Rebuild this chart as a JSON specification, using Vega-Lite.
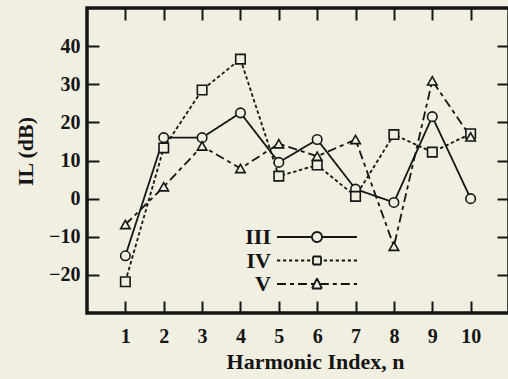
{
  "$schema": "https://vega.github.io/schema/vega-lite/v6.json",
  "width": 422,
  "height": 305,
  "autosize": {"type": "none"},
  "padding": {"left": 87, "top": 8, "right": 0, "bottom": 66},
  "background": "#f1efe2",
  "config": {
    "font": "Liberation Serif",
    "view": {"stroke": "#151515", "strokeWidth": 3.5},
    "axis": {
      "domain": false,
      "grid": false,
      "tickColor": "#151515",
      "tickWidth": 2,
      "tickSize": -12,
      "labelColor": "#151515",
      "titleColor": "#151515",
      "labelFont": "Liberation Serif",
      "titleFont": "Liberation Serif"
    }
  },
  "data": {
    "values": [
      {"series": "III", "n": 1, "IL": -15},
      {"series": "III", "n": 2, "IL": 16},
      {"series": "III", "n": 3, "IL": 16},
      {"series": "III", "n": 4, "IL": 22.5},
      {"series": "III", "n": 5, "IL": 9.5},
      {"series": "III", "n": 6, "IL": 15.5},
      {"series": "III", "n": 7, "IL": 2.5},
      {"series": "III", "n": 8, "IL": -1},
      {"series": "III", "n": 9, "IL": 21.5},
      {"series": "III", "n": 10, "IL": 0},
      {"series": "IV", "n": 1, "IL": -21.8},
      {"series": "IV", "n": 2, "IL": 13.3},
      {"series": "IV", "n": 3, "IL": 28.5},
      {"series": "IV", "n": 4, "IL": 36.6},
      {"series": "IV", "n": 5, "IL": 5.9},
      {"series": "IV", "n": 6, "IL": 8.8},
      {"series": "IV", "n": 7, "IL": 0.6},
      {"series": "IV", "n": 8, "IL": 16.8},
      {"series": "IV", "n": 9, "IL": 12.2},
      {"series": "IV", "n": 10, "IL": 17},
      {"series": "V", "n": 1, "IL": -6.8},
      {"series": "V", "n": 2, "IL": 3.1},
      {"series": "V", "n": 3, "IL": 13.8},
      {"series": "V", "n": 4, "IL": 7.9},
      {"series": "V", "n": 5, "IL": 14.4},
      {"series": "V", "n": 6, "IL": 11.1},
      {"series": "V", "n": 7, "IL": 15.5},
      {"series": "V", "n": 8, "IL": -12.5},
      {"series": "V", "n": 9, "IL": 30.9},
      {"series": "V", "n": 10, "IL": 16.2}
    ]
  },
  "layer": [
    {
      "mark": {"type": "line", "strokeWidth": 1.8},
      "encoding": {
        "x": {
          "field": "n", "type": "quantitative",
          "scale": {"domain": [0, 11], "nice": false, "zero": false},
          "axis": {
            "orient": "bottom",
            "values": [1, 2, 3, 4, 5, 6, 7, 8, 9, 10],
            "labelFontSize": 20, "labelFontWeight": "bold",
            "labelPadding": 41, "labelBaseline": "alphabetic",
            "title": "Harmonic Index, n",
            "titleFontSize": 22, "titleFontWeight": "bold",
            "titleX": 228, "titleY": 55, "titleBaseline": "alphabetic", "titleAlign": "center"
          }
        },
        "y": {
          "field": "IL", "type": "quantitative",
          "scale": {"domain": [-30, 50], "nice": false, "zero": false},
          "axis": {
            "orient": "left",
            "values": [-20, -10, 0, 10, 20, 30, 40],
            "labelExpression": "toString(datum.value)",
            "labelFontSize": 20, "labelFontWeight": "bold",
            "labelPadding": 19,
            "title": "IL (dB)",
            "titleFontSize": 22, "titleFontWeight": "bold",
            "titleX": -62, "titleY": 143, "titleAngle": -90, "titleBaseline": "middle", "titleAlign": "center"
          }
        },
        "strokeDash": {
          "field": "series", "type": "nominal",
          "scale": {"range": [[1, 0], [3.5, 2.5], [9, 4, 4, 4]]},
          "legend": null
        },
        "color": {
          "field": "series", "type": "nominal",
          "scale": {"range": ["#151515", "#151515", "#151515"]},
          "legend": {
            "orient": "none", "legendX": 219, "legendY": 218,
            "title": null, "symbolType": "M-8,0H8", "symbolSize": 100,
            "symbolStrokeWidth": 1.8, "symbolFillColor": "#f1efe2",
            "rowPadding": 1.5, "padding": 0,
            "labelAlign": "right", "labelOffset": -57, "labelBaseline": "middle",
            "labelFontSize": 22, "labelFontWeight": "bold", "labelColor": "#151515",
            "encode": {
              "symbols": {
                "update": {
                  "shape": {"signal": "datum.value === 'III' ? 'M-8,0H-1M1,0H8M1,0A1,1,0,1,1,-1,0A1,1,0,1,1,1,0Z' : datum.value === 'IV' ? 'M-8,0H-7.35M-6.8,0H-6.15M-5.6,0H-4.95M-4.4,0H-3.75M-3.2,0H-2.55M-2,0H-1.35M1.35,0H2M2.55,0H3.2M3.75,0H4.4M4.95,0H5.6M6.15,0H6.8M7.35,0H8M-0.8,-0.8H-0.27M-0.27,-0.8H0.27M0.27,-0.8H0.8M0.8,-0.8V-0.27M0.8,-0.27V0.27M0.8,0.27V0.8M0.8,0.8H0.27M0.27,0.8H-0.27M-0.27,0.8H-0.8M-0.8,0.8V0.27M-0.8,0.27V-0.27M-0.8,-0.27V-0.8' : 'M-8,0H-6.2M-5.4,0H-4.6M-3.8,0H-2M-1.2,0H-0.55M0.55,0H2.35M3.15,0H3.95M4.75,0H6.55M7.35,0H8M0,-1.1L0.5,-0.1M0.5,-0.1L1,0.9M1,0.9L0,0.9M0,0.9L-1,0.9M-1,0.9L-0.5,-0.1M-0.5,-0.1L0,-1.1'"},
                  "fill": {"value": "#f1efe2"},
                  "stroke": {"value": "#151515"},
                  "strokeWidth": {"value": 1.8}
                }
              }
            }
          }
        }
      }
    },
    {
      "mark": {"type": "point", "filled": true, "fill": "#f1efe2", "stroke": "#151515", "strokeWidth": 1.6, "opacity": 1, "size": 90},
      "encoding": {
        "x": {
          "field": "n", "type": "quantitative",
          "axis": {"orient": "top", "values": [1, 2, 3, 4, 5, 6, 7, 8, 9, 10], "labels": false, "title": null}
        },
        "y": {
          "field": "IL", "type": "quantitative",
          "axis": {"orient": "right", "values": [-20, -10, 0, 10, 20, 30, 40], "labels": false, "title": null}
        },
        "shape": {
          "field": "series", "type": "nominal",
          "scale": {"domain": ["III", "IV", "V"], "range": ["circle", "square", "triangle-up"]},
          "legend": null
        }
      }
    }
  ],
  "resolve": {"axis": {"x": "independent", "y": "independent"}}
}
